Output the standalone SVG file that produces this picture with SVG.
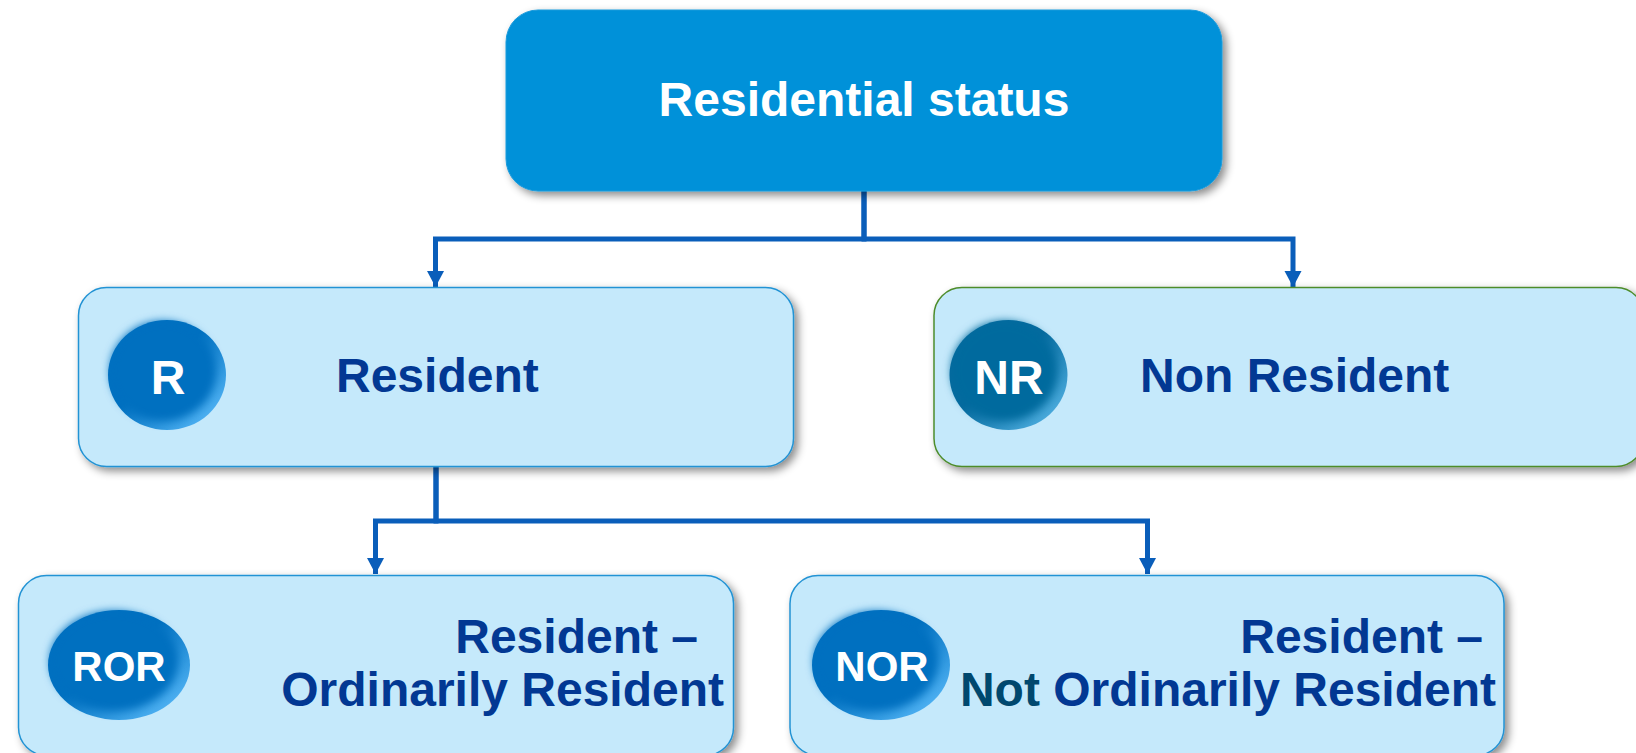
<svg xmlns="http://www.w3.org/2000/svg" width="1636" height="753" viewBox="0 0 1636 753">
<defs>
<style>
.lbl{font-family:"Liberation Sans",Arial,sans-serif;font-weight:bold;font-size:48px;fill:#023893}
.top{font-family:"Liberation Sans",Arial,sans-serif;font-weight:bold;font-size:48px;fill:#ffffff}
.badge{font-family:"Liberation Sans",Arial,sans-serif;font-weight:bold;fill:#ffffff;text-anchor:middle}
.box{fill:#C5E9FB;stroke:#2393D4;stroke-width:1.5;filter:url(#sh)}
.conn{fill:none;stroke:#0A5EBA;stroke-width:5;marker-end:url(#arr)}
</style>
<filter id="sh" x="-10%" y="-10%" width="125%" height="130%">
<feDropShadow dx="4" dy="4" stdDeviation="4" flood-color="#000" flood-opacity="0.45"/>
</filter>
<filter id="bl" x="-20%" y="-20%" width="140%" height="140%">
<feGaussianBlur stdDeviation="4"/>
</filter>
<linearGradient id="rimB" x1="0" y1="0" x2="1" y2="1">
<stop offset="0.45" stop-color="#0070C0"/>
<stop offset="0.85" stop-color="#4AAEF0"/>
<stop offset="1" stop-color="#1A80CC"/>
</linearGradient>
<linearGradient id="rimT" x1="0" y1="0" x2="1" y2="1">
<stop offset="0.45" stop-color="#056A9E"/>
<stop offset="0.85" stop-color="#47A8DA"/>
<stop offset="1" stop-color="#1478AE"/>
</linearGradient>
<marker id="arr" markerUnits="userSpaceOnUse" markerWidth="16" markerHeight="18" viewBox="0 0 16 18" refX="16" refY="9" orient="auto">
<path d="M0 0.5 L16 9 L0 17.5 Z" fill="#0A5EBA"/>
</marker>
</defs>

<g id="connectors">
<path class="conn" d="M864 191 V239 H435.5 V287"/>
<path class="conn" d="M864 191 V239 H1293 V287"/>
<path class="conn" d="M436 467 V521 H375.5 V574"/>
<path class="conn" d="M436 467 V521 H1147.5 V574"/>
</g>

<g id="node-residential-status">
<rect x="506" y="10" width="716" height="181" rx="32" fill="#0391D9" stroke="#1D9BDB" stroke-width="1" filter="url(#sh)"/>
<text class="top" x="864" y="116" text-anchor="middle">Residential status</text>
</g>

<g id="node-resident">
<rect class="box" x="78.5" y="287.5" width="715" height="179" rx="28"/>
<ellipse cx="167" cy="375" rx="59" ry="55" fill="url(#rimB)"/>
<ellipse cx="163" cy="371" rx="53" ry="50" fill="#0070C0" filter="url(#bl)"/>
<text class="badge" x="168" y="394" font-size="48">R</text>
<text class="lbl" x="336" y="392">Resident</text>
</g>

<g id="node-non-resident">
<rect class="box" x="934" y="287.5" width="710" height="179" rx="28" style="stroke:#4E8C2C"/>
<ellipse cx="1008.5" cy="375" rx="59" ry="55" fill="url(#rimT)"/>
<ellipse cx="1004.5" cy="371" rx="53" ry="50" fill="#056A9E" filter="url(#bl)"/>
<text class="badge" x="1009" y="394" font-size="48">NR</text>
<text class="lbl" x="1140" y="392">Non Resident</text>
</g>

<g id="node-ror">
<rect class="box" x="18.5" y="575.5" width="715" height="180" rx="28"/>
<ellipse cx="119" cy="665" rx="71" ry="55" fill="url(#rimB)"/>
<ellipse cx="114" cy="661" rx="64" ry="50" fill="#0070C0" filter="url(#bl)"/>
<text class="badge" x="119" y="681" font-size="42">ROR</text>
<text class="lbl" x="698" y="653" text-anchor="end">Resident –</text>
<text class="lbl" x="724" y="706" text-anchor="end">Ordinarily Resident</text>
</g>

<g id="node-nor">
<rect class="box" x="790" y="575.5" width="714" height="180" rx="28"/>
<ellipse cx="881" cy="665" rx="69" ry="55" fill="url(#rimB)"/>
<ellipse cx="876" cy="661" rx="62" ry="50" fill="#0070C0" filter="url(#bl)"/>
<text class="badge" x="882" y="681" font-size="42">NOR</text>
<text class="lbl" x="1483" y="653" text-anchor="end">Resident –</text>
<text class="lbl" x="1496" y="706" text-anchor="end"><tspan fill="#00486E">Not</tspan> Ordinarily Resident</text>
</g>
</svg>
